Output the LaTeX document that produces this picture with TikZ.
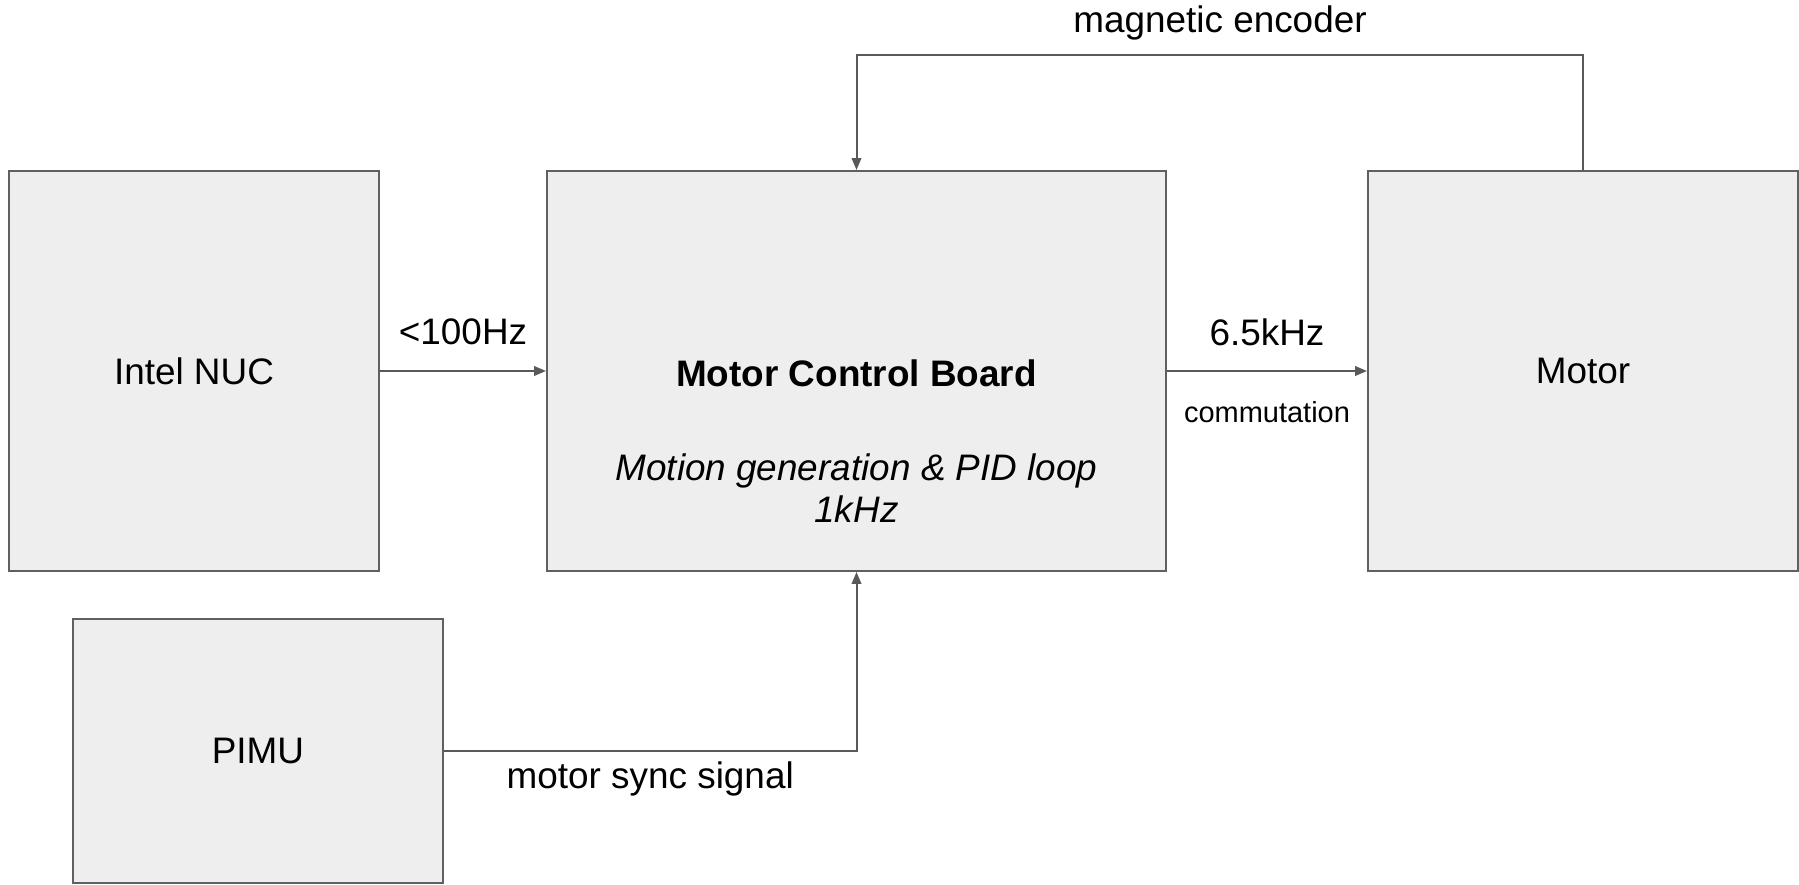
\documentclass[tikz,border=0pt]{standalone}
\usepackage{fontspec}
\setmainfont{Liberation Sans}
\usepackage{tikz}
\usetikzlibrary{arrows.meta}
\definecolor{boxfill}{HTML}{EEEEEE}
\definecolor{boxline}{HTML}{606060}
\definecolor{wire}{HTML}{595959}
\tikzset{block/.style={draw=boxline, fill=boxfill, line width=0.04cm,
  minimum height=8cm, inner sep=0pt, font=\fontsize{21}{23.8}\selectfont}}
\tikzset{link/.style={draw=wire, line width=0.04cm,
  -{Triangle[length=0.24cm, width=0.19cm]}}}
\tikzset{tag/.style={font=\fontsize{21}{23.8}\selectfont, inner sep=0pt}}
\tikzset{smalltag/.style={font=\fontsize{16.5}{19}\selectfont, inner sep=0pt}}

\begin{document}
\begin{tikzpicture}[x=0.02cm, y=-0.02cm]
\useasboundingbox (0,0) rectangle (1799,885);

\node[block, minimum width=7.4cm] (nuc) at (194,371) {Intel NUC};
\node[block, minimum width=12.38cm] (mcb) at (856.5,371) {};
\node[block, minimum width=8.6cm] (motor) at (1583,371) {Motor};
\node[block, minimum width=7.4cm, minimum height=5.3cm] (pimu) at (258,751) {PIMU};

\node[tag] (mcbtitle) at (856.5,373) {\bfseries Motor Control Board};
\node[tag, align=center] (mcbnote) at (856.5,488)
  {\itshape Motion generation \& PID loop\\ \itshape 1kHz};

\coordinate (enc) at (1220,55);

\draw[link] (nuc.east) -- (mcb.west)
  node[tag, midway, yshift=0.78cm] {<100Hz};
\draw[link] (mcb.east) -- (motor.west)
  node[tag, midway, yshift=0.78cm] {6.5kHz}
  node[smalltag, midway, yshift=-0.82cm] {commutation};
\draw[link] (motor.north) |- (enc)
  node[tag, yshift=0.64cm] {magnetic encoder} -| (mcb.north);
\draw[link] (pimu.east) -| (mcb.south)
  node[tag, pos=0.25, yshift=-0.56cm] {motor sync signal};
\end{tikzpicture}
\end{document}
